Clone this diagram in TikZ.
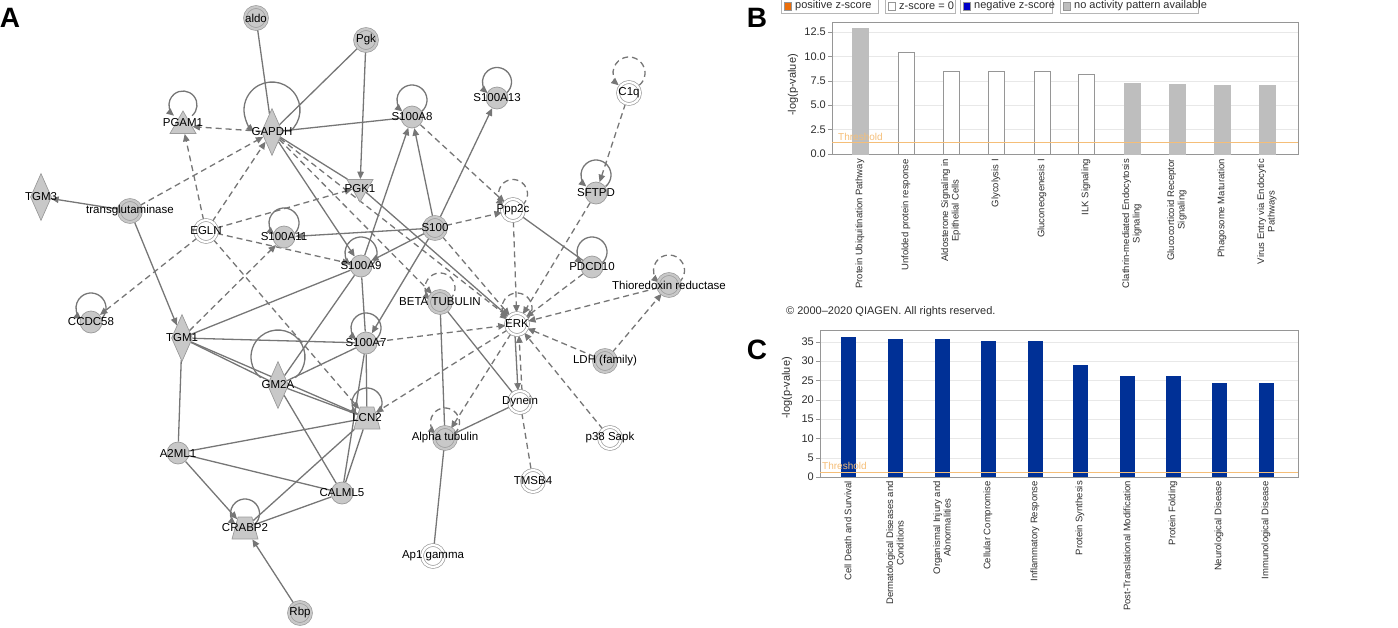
\documentclass[tikz,border=0pt]{standalone}
\usepackage{fontspec}
\setmainfont{Liberation Sans}
\usepackage{tikz}
\usetikzlibrary{shapes.geometric}
\usetikzlibrary{arrows.meta}
\definecolor{edgegray}{RGB}{118,118,118}
\definecolor{genefill}{RGB}{200,200,200}
\definecolor{genering}{RGB}{155,155,155}
\definecolor{ipablue}{RGB}{0,48,150}
\definecolor{thresh}{RGB}{245,190,120}
\definecolor{legorange}{RGB}{235,110,10}
\definecolor{legblue}{RGB}{0,0,200}
\definecolor{legray}{RGB}{190,190,190}
\definecolor{gridgray}{RGB}{232,232,232}
\definecolor{axisgray}{RGB}{150,150,150}
\definecolor{txtgray}{RGB}{45,45,45}
\pgfdeclarelayer{edges}
\pgfsetlayers{edges,main}
\tikzset{>={Triangle[length=7.5pt,width=6.5pt]}}
\tikzset{
  gene/.style={circle,minimum size=22pt,inner sep=0pt,fill=genefill,draw=genering,line width=0.7pt},
  ring/.style={double=genefill,double distance=2.2pt},
  wring/.style={fill=white,double=white,double distance=2.2pt},
  dia/.style={diamond,minimum width=21pt,minimum height=47pt,inner sep=0pt,fill=genefill,draw=genering,line width=0.7pt},
  tri/.style={regular polygon,regular polygon sides=3,minimum size=30pt,inner sep=0pt,fill=genefill,draw=genering,line width=0.7pt},
  trap/.style={trapezium,trapezium stretches=true,trapezium left angle=66,trapezium right angle=66,minimum width=26pt,minimum height=22pt,inner sep=1pt,fill=genefill,draw=genering,line width=0.7pt},
  lbl/.style={font=\fontsize{11.5}{12}\selectfont,inner sep=0pt,text=black},
  link/.style={draw=edgegray,line width=1.3pt},
  act/.style={link,->},
  ind/.style={link,dash pattern=on 6pt off 4pt},
  indact/.style={ind,->},
  tick/.style={font=\fontsize{11}{12}\selectfont,text=txtgray,inner sep=0pt},
  barlbl/.style={rotate=90,anchor=east,align=center,font=\fontsize{9.5}{10.5}\selectfont,text=txtgray,inner sep=0pt},
  bargray/.style={fill=legray,draw=legray},
  barwhite/.style={fill=white,draw=axisgray,line width=0.7pt},
  letter/.style={font=\fontsize{28}{28}\selectfont\bfseries,inner sep=0pt},
  thrlbl/.style={tick,text=thresh,anchor=west,font=\fontsize{10}{11}\selectfont},
}
% self loop: node, lift of the loop centre, loop radius
\newcommand{\selfloop}[4][link,->]{\draw[#1] ([shift={(0pt,#3)},shift={(-50:#4)}]#2.center) arc[start angle=-50,end angle=230,radius=#4];}

\begin{document}
\begin{tikzpicture}[x=1pt,y=-1pt]
\useasboundingbox (0,0) rectangle (1398,627);

% Panel A: network
\node[letter] at (10,18) {A};

\node[gene,ring,label={[lbl]center:aldo}] (aldo) at (256,18) {};
\node[gene,ring,label={[lbl]center:Pgk}] (pgk) at (366,40) {};
\node[tri,label={[lbl,yshift=3pt]center:PGAM1}] (pgam1) at (183,126) {};
\node[dia,label={[lbl]center:GAPDH}] (gapdh) at (272,132) {};
\node[dia,label={[lbl]center:TGM3}] (tgm3) at (41,197) {};
\node[gene,ring,label={[lbl]center:transglutaminase}] (tgase) at (130,211) {};
\node[gene,wring,label={[lbl]center:EGLN}] (egln) at (206,231) {};
\node[tri,shape border rotate=180,label={[lbl,yshift=-2pt]center:PGK1}] (pgk1) at (360,187) {};
\node[gene,label={[lbl]center:S100A11}] (s100a11) at (284,237) {};
\node[gene,label={[lbl]center:S100A9}] (s100a9) at (361,266) {};
\node[gene,label={[lbl]center:S100A8}] (s100a8) at (412,117) {};
\node[gene,label={[lbl]center:S100A13}] (s100a13) at (497,98) {};
\node[gene,wring,label={[lbl]center:C1q}] (c1q) at (629,93) {};
\node[gene,label={[lbl]center:SFTPD}] (sftpd) at (596,193) {};
\node[gene,wring,label={[lbl]center:Ppp2c}] (ppp2c) at (513,210) {};
\node[gene,ring,label={[lbl]center:S100}] (s100) at (435,228) {};
\node[gene,label={[lbl]center:PDCD10}] (pdcd10) at (592,267) {};
\node[gene,ring,label={[lbl]center:Thioredoxin reductase}] (trxr) at (669,285) {};
\node[gene,ring,label={[lbl]center:BETA TUBULIN}] (btub) at (440,302) {};
\node[gene,label={[lbl]center:CCDC58}] (ccdc58) at (91,322) {};
\node[dia,label={[lbl]center:TGM1}] (tgm1) at (182,338) {};
\node[gene,label={[lbl]center:S100A7}] (s100a7) at (366,343) {};
\node[dia,label={[lbl]center:GM2A}] (gm2a) at (278,385) {};
\node[trap,label={[lbl]center:LCN2}] (lcn2) at (367,418) {};
\node[gene,label={[lbl]center:A2ML1}] (a2ml1) at (178,453) {};
\node[gene,label={[lbl]center:CALML5}] (calml5) at (342,493) {};
\node[trap,label={[lbl]center:CRABP2}] (crabp2) at (245,528) {};
\node[gene,ring,label={[lbl]center:Rbp}] (rbp) at (300,613) {};
\node[gene,wring,label={[lbl]center:ERK}] (erk) at (517,324) {};
\node[gene,ring,label={[lbl]center:LDH (family)}] (ldh) at (605,361) {};
\node[gene,wring,label={[lbl]center:Dynein}] (dynein) at (520,402) {};
\node[gene,ring,label={[lbl]center:Alpha tubulin}] (atub) at (445,438) {};
\node[gene,wring,label={[lbl]center:p38 Sapk}] (p38) at (610,438) {};
\node[gene,wring,label={[lbl]center:TMSB4}] (tmsb4) at (533,481) {};
\node[gene,wring,label={[lbl]center:Ap1 gamma}] (ap1g) at (433,556) {};

\begin{pgfonlayer}{edges}
% direct links
\draw[link] (aldo) -- (gapdh);
\draw[link] (pgk) -- (gapdh);
\draw[link] (gapdh) -- (s100a8);
\draw[link] (gapdh) -- (pgk1);
\draw[link] (ppp2c) -- (pdcd10);
\draw[link] (tgm1) -- (s100a7);
\draw[link] (tgm1) -- (gm2a);
\draw[link] (tgm1) -- (lcn2);
\draw[link] (tgm1) -- (a2ml1);
\draw[link] (tgm1) -- (s100a9);
\draw[link] (gm2a) -- (s100a7);
\draw[link] (gm2a) -- (s100a9);
\draw[link] (gm2a) -- (lcn2);
\draw[link] (gm2a) -- (calml5);
\draw[link] (s100a7) -- (lcn2);
\draw[link] (s100a7) -- (calml5);
\draw[link] (s100a9) -- (s100a7);
\draw[link] (lcn2) -- (a2ml1);
\draw[link] (lcn2) -- (calml5);
\draw[link] (lcn2) -- (crabp2);
\draw[link] (a2ml1) -- (calml5);
\draw[link] (calml5) -- (crabp2);
\draw[link] (btub) -- (atub);
\draw[link] (btub) -- (dynein);
\draw[link] (dynein) -- (atub);
\draw[link] (atub) -- (ap1g);

% direct actions
\draw[act] (pgk) -- (pgk1);
\draw[act] (tgase) -- (tgm3);
\draw[act] (tgase) -- (tgm1);
\draw[act] (gapdh) -- (s100a9);
\draw[act] (s100) -- (s100a8);
\draw[act] (s100a9) -- (s100a8);
\draw[act] (s100) -- (s100a13);
\draw[act] (s100) -- (s100a11);
\draw[act] (s100) -- (s100a9);
\draw[act] (s100) -- (s100a7);
\draw[act] (pgk1) -- (erk);
\draw[act] (a2ml1) -- (crabp2);
\draw[act] (rbp) -- (crabp2);
\draw[act] ([xshift=-2pt]erk.south) -- ([xshift=-2pt]dynein.north);

% indirect
\draw[ind] (dynein) -- (tmsb4);
\draw[indact] (gapdh) -- (pgam1);
\draw[indact] (egln) -- (pgam1);
\draw[indact] (egln) -- (gapdh);
\draw[indact] (tgase) -- (gapdh);
\draw[indact] (egln) -- (pgk1);
\draw[indact] (egln) -- (s100a9);
\draw[indact] (egln) -- (ccdc58);
\draw[indact] (egln) -- (lcn2);
\draw[indact] (tgm1) -- (s100a11);
\draw[indact] (gapdh) -- (btub);
\draw[indact] (gapdh) -- (erk);
\draw[indact] (s100a8) -- (ppp2c);
\draw[indact] (s100) -- (ppp2c);
\draw[indact] (s100) -- (erk);
\draw[indact] (ppp2c) -- (erk);
\draw[indact] (sftpd) -- (erk);
\draw[indact] (c1q) -- (sftpd);
\draw[indact] (pdcd10) -- (erk);
\draw[indact] (trxr) -- (erk);
\draw[indact] (ldh) -- (trxr);
\draw[indact] (ldh) -- (erk);
\draw[indact] (p38) -- (erk);
\draw[indact] (erk) -- (lcn2);
\draw[indact] (erk) -- (atub);
\draw[indact] (s100a7) -- (erk);
\draw[indact] ([xshift=2pt]dynein.north) -- ([xshift=2pt]erk.south);

% self loops
\selfloop{pgam1}{21pt}{14pt}
\selfloop{gapdh}{22pt}{28pt}
\selfloop{s100a8}{17pt}{15pt}
\selfloop{s100a13}{16pt}{14.5pt}
\selfloop[indact]{c1q}{20pt}{16pt}
\selfloop{sftpd}{18pt}{15pt}
\selfloop[indact]{ppp2c}{16pt}{14.5pt}
\selfloop{s100a11}{14pt}{15pt}
\selfloop{s100a9}{13pt}{16pt}
\selfloop{pdcd10}{15pt}{15pt}
\selfloop[indact]{trxr}{14.5pt}{15.5pt}
\selfloop[indact]{btub}{14pt}{15pt}
\selfloop{ccdc58}{14pt}{15pt}
\selfloop[indact]{erk}{16pt}{15pt}
\selfloop{s100a7}{15pt}{15pt}
\selfloop[link]{gm2a}{28pt}{27pt}
\selfloop{lcn2}{15pt}{15pt}
\selfloop[indact]{atub}{15.5pt}{14.5pt}
\selfloop{crabp2}{14.5pt}{14.5pt}
\end{pgfonlayer}

% Panel B: canonical pathways
\node[letter] at (757,18) {B};

% Legend
\foreach \lx/\lw/\lc/\lt in {781/97/legorange/{positive z-score}, 885/70/white/{z-score = 0}, 960/92/legblue/{negative z-score}, 1060/138/legray/{no activity pattern available}} {
  \draw[axisgray!70] (\lx,-4) rectangle (\lx+\lw,13);
  \draw[fill=\lc,draw=axisgray] (\lx+3,2) rectangle (\lx+10,10);
  \node[tick,anchor=west] at (\lx+14,6) {\lt};
}

% Grid and axes
\foreach \v/\t in {0/0.0, 2.5/2.5, 5/5.0, 7.5/7.5, 10/10.0, 12.5/12.5} {
  \draw[gridgray] (832,{154-9.76*\v}) -- (1298,{154-9.76*\v});
  \draw[axisgray] (828,{154-9.76*\v}) -- (832,{154-9.76*\v});
  \node[tick,anchor=east] at (826,{154-9.76*\v}) {\t};
}
\draw[axisgray] (832,22) rectangle (1298,154);
\node[tick,rotate=90] at (793,85) {-log(p-value)};

% Bars
\foreach \bx/\bv/\bs in {860/12.9/bargray, 906/10.45/barwhite, 951/8.5/barwhite, 996/8.5/barwhite, 1042/8.5/barwhite, 1086/8.2/barwhite, 1132/7.3/bargray, 1177/7.2/bargray, 1222/7.0/bargray, 1267/7.0/bargray}
  \draw[\bs] (\bx-8,154) rectangle (\bx+8,{154-9.76*\bv});

% Threshold
\draw[thresh,line width=0.8pt] (832,142) -- (1298,142);
\node[thrlbl] at (838,137) {Threshold};

% Pathway names
\foreach \bx/\bt in {860/{Protein Ubiquitination Pathway}, 906/{Unfolded protein response}, 951/{Aldosterone Signaling in\\Epithelial Cells}, 996/{Glycolysis I}, 1042/{Gluconeogenesis I}, 1086/{ILK Signaling}, 1132/{Clathrin-mediated Endocytosis\\Signaling}, 1177/{Glucocorticoid Receptor\\Signaling}, 1222/{Phagosome Maturation}, 1267/{Virus Entry via Endocytic\\Pathways}}
  \node[barlbl] at (\bx,159) {\bt};

\node[tick,anchor=west] at (786,312) {© 2000–2020 QIAGEN. All rights reserved.};

% Panel C: diseases and functions
\node[letter] at (757,350) {C};

\foreach \v in {0,5,...,35} {
  \draw[gridgray] (820,{477-3.86*\v}) -- (1298,{477-3.86*\v});
  \draw[axisgray] (816,{477-3.86*\v}) -- (820,{477-3.86*\v});
  \node[tick,anchor=east] at (814,{477-3.86*\v}) {\v};
}
\draw[axisgray] (820,330) rectangle (1298,477);
\node[tick,rotate=90] at (787,388) {-log(p-value)};

\foreach \cx/\cv in {848/36.3, 895/35.7, 942/35.7, 988/35.2, 1035/35.2, 1080/29, 1127/26.2, 1173/26.2, 1219/24.3, 1266/24.3}
  \fill[ipablue] (\cx-7.5,477) rectangle (\cx+7.5,{477-3.86*\cv});

\draw[thresh,line width=0.8pt] (820,472) -- (1298,472);
\node[thrlbl] at (822,466) {Threshold};

\foreach \cx/\ct in {848/{Cell Death and Survival}, 895/{Dermatological Diseases and\\Conditions}, 942/{Organismal Injury and\\Abnormalities}, 988/{Cellular Compromise}, 1035/{Inflammatory Response}, 1080/{Protein Synthesis}, 1127/{Post-Translational Modification}, 1173/{Protein Folding}, 1219/{Neurological Disease}, 1266/{Immunological Disease}}
  \node[barlbl] at (\cx,481) {\ct};

\end{tikzpicture}
\end{document}
